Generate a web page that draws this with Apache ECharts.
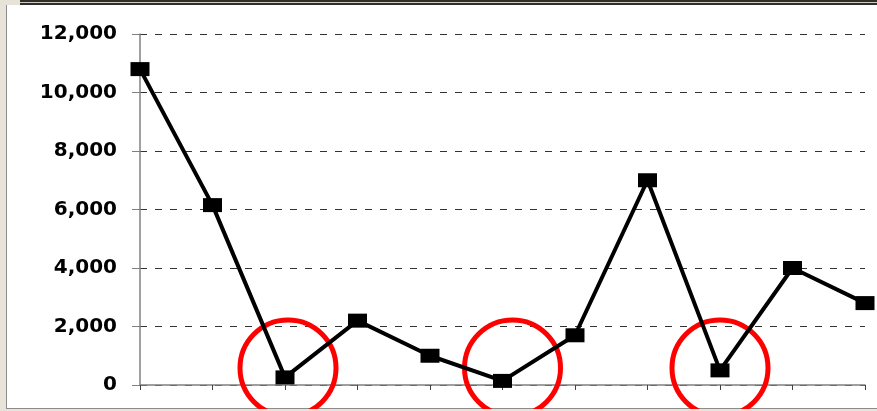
<!DOCTYPE html>
<html>
<head>
<meta charset="utf-8">
<script src="https://cdn.jsdelivr.net/npm/echarts@6/dist/echarts.min.js"></script>
<style>
    html, body {
        margin: 0;
        padding: 0;
        width: 877px;
        height: 411px;
        overflow: hidden;
        background: #e7e3d8;
    }
    .topBar {
        position: absolute;
        left: 20px;
        top: 0;
        width: 857px;
        height: 5px;
        background: linear-gradient(#2e2e2e 0, #2e2e2e 2px, #cfcbbd 2px, #cfcbbd 3px, #2e2e2e 3px);
    }
    .panel {
        position: absolute;
        left: 6px;
        top: 5px;
        width: 871px;
        height: 403px;
        background: #fff;
        border-left: 1px solid #8c8c8c;
        border-bottom: 1px solid #8c8c8c;
    }
    #chart {
        position: absolute;
        left: 0;
        top: 0;
        width: 877px;
        height: 409px;
    }
</style>
</head>
<body>
<div class="topBar"></div>
<div class="panel"></div>
<div id="chart"></div>
<script>
// data
const categories = ['1', '2', '3', '4', '5', '6', '7', '8', '9', '10', '11']
const values = [10800, 6150, 260, 2200, 1000, 140, 1700, 7000, 500, 4000, 2800]
const yTicks = [0, 2000, 4000, 6000, 8000, 10000, 12000]
// the red circles around the low points
const circledIdx = [2, 5, 8]
const circleLevel = 580

const chart = echarts.init(document.getElementById('chart'))

const option = {
    backgroundColor: 'transparent',
    animation: false,
    grid: {
        left: 140,
        right: 12,
        top: 34,
        bottom: 24
    },
    xAxis: {
        type: 'category',
        data: categories,
        boundaryGap: false,
        axisLine: { show: true, lineStyle: { color: '#808080', width: 1.5 } },
        axisTick: { show: true, length: 5, lineStyle: { color: '#404040' } },
        axisLabel: { show: false },
        splitLine: { show: false }
    },
    yAxis: {
        type: 'value',
        min: yTicks[0],
        max: yTicks[yTicks.length - 1],
        interval: 2000,
        axisLine: { show: true, lineStyle: { color: '#808080', width: 1.5 } },
        axisTick: { show: true, length: 8, lineStyle: { color: '#808080' } },
        axisLabel: {
            margin: 23,
            color: '#000',
            fontFamily: 'DejaVu Sans',
            fontWeight: 'bold',
            fontSize: 20,
            formatter: v => v.toLocaleString('en-US')
        },
        splitLine: {
            show: true,
            lineStyle: { color: '#333', width: 1.2, type: [7, 8] }
        }
    },
    series: [
        {
            name: 'value',
            type: 'line',
            data: values,
            symbol: 'rect',
            symbolSize: [19, 14],
            lineStyle: { color: '#000', width: 4 },
            itemStyle: { color: '#000' },
            z: 4
        },
        {
            name: 'circles',
            type: 'scatter',
            clip: false,
            data: circledIdx.map((i, k) => ({
                value: [i, circleLevel],
                symbolOffset: [[3, 0], [10, 0], [0, 0]][k]
            })),
            symbol: 'circle',
            symbolSize: 96,
            itemStyle: {
                color: 'rgba(0,0,0,0)',
                borderColor: '#ff0000',
                borderWidth: 5,
                opacity: 1
            },
            z: 3
        }
    ]
}
chart.setOption(option)
</script>
</body>
</html>
